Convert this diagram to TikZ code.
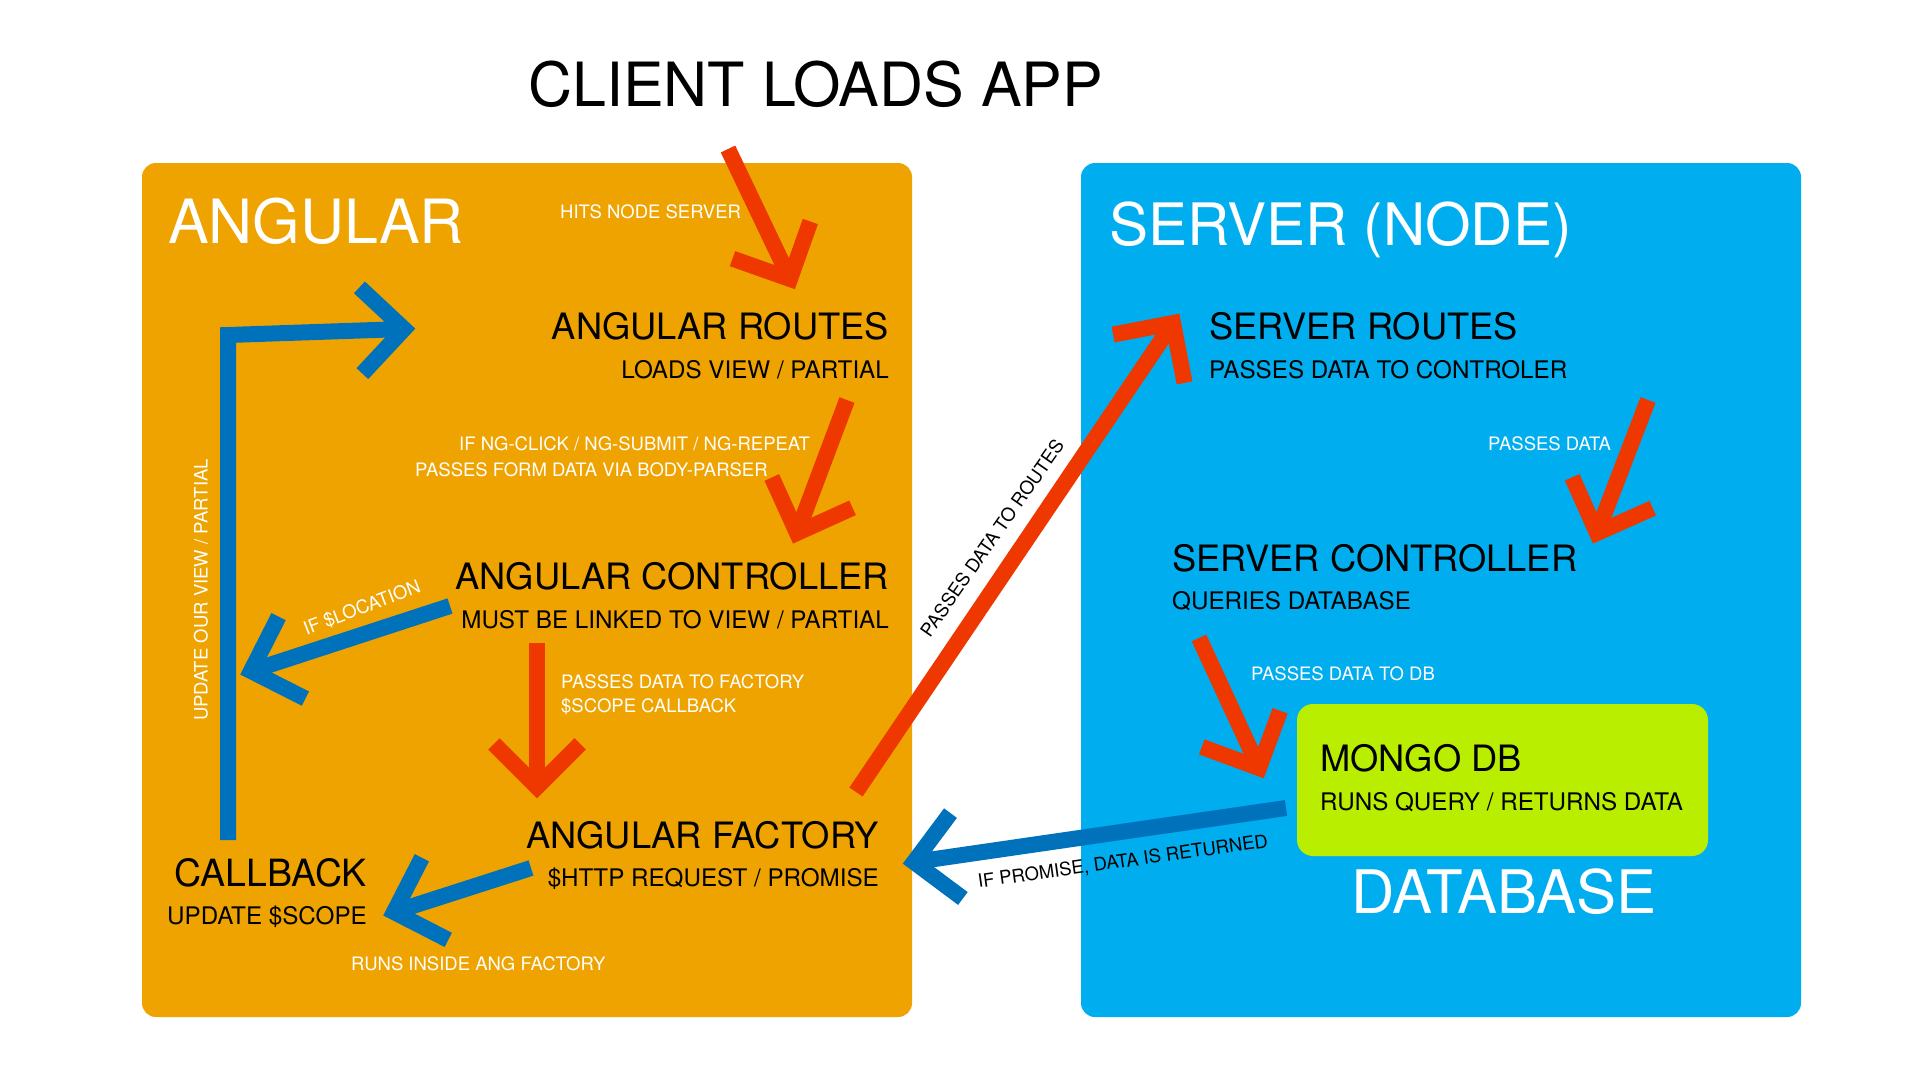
\documentclass[tikz,border=0pt]{standalone}
\usepackage{fontspec}
\setmainfont{TeX Gyre Heros}
\usetikzlibrary{calc}
\definecolor{angorange}{HTML}{EFA300}
\definecolor{nodeblue}{HTML}{00AEEF}
\definecolor{mongogreen}{HTML}{BAEE00}
\definecolor{flowred}{HTML}{EE3800}
\definecolor{flowblue}{HTML}{0072BC}

\begin{document}
\begin{tikzpicture}[x=1pt,y=-1pt,
				every node/.style={inner sep=0pt},
				bigtext/.style={font=\fontsize{#1}{#1}\selectfont},
				headtext/.style={font=\fontsize{36.3}{43}\selectfont},
				subtext/.style={font=\fontsize{24.2}{29}\selectfont},
				notetext/.style={font=\fontsize{18.5}{22}\selectfont,text=white},
				panel/.style={rounded corners=14pt},
				redflow/.style={draw=flowred,line width=16pt,line join=miter},
				blueflow/.style={draw=flowblue,line width=16pt,line join=miter}]
				\fill[white] (0,0) rectangle (1920,1080);
				\useasboundingbox (0,0) rectangle (1920,1080);
				\fill[panel,angorange] (142,163) rectangle (912,1017);
				\fill[panel,nodeblue] (1081,163) rectangle (1801,1017);
				\fill[rounded corners=16pt,mongogreen] (1297,704) rectangle (1708,856);
				\node[bigtext=61,anchor=base west] (client) at (528,106) {CLIENT LOADS APP};
				\node[bigtext=61,anchor=base west,text=white] (angular) at (168,243) {ANGULAR};
				\node[bigtext=58.5,anchor=base west,text=white] (server) at (1109,245) {SERVER (NODE)};
				\node[bigtext=60,anchor=base west,text=white] (database) at (1351,913) {DATABASE};
				\node[notetext,anchor=base west] (hits) at (560,218) {HITS NODE SERVER};
				\node[headtext,anchor=base east] (angroutes) at (889,339) {ANGULAR ROUTES};
				\node[subtext,anchor=base east] (loadsview) at (889,378) {LOADS VIEW / PARTIAL};
				\node[notetext,anchor=base west] (ngclick) at (459,450) {IF NG-CLICK / NG-SUBMIT / NG-REPEAT};
				\node[notetext,anchor=base west] (bodyparser) at (415,476) {PASSES FORM DATA VIA BODY-PARSER};
				\node[headtext,anchor=base east] (angctrl) at (889,589) {ANGULAR CONTROLLER};
				\node[subtext,anchor=base east] (linked) at (889,628) {MUST BE LINKED TO VIEW / PARTIAL};
				\node[notetext,anchor=base west] (tofactory) at (561,688) {PASSES DATA TO FACTORY};
				\node[notetext,anchor=base west] (scopecb) at (561,712) {\$SCOPE CALLBACK};
				\node[headtext,anchor=base east] (angfactory) at (879,848) {ANGULAR FACTORY};
				\node[subtext,anchor=base east] (httpreq) at (879,886) {\$HTTP REQUEST / PROMISE};
				\node[headtext,font=\fontsize{37.5}{43}\selectfont,anchor=base east] (callback) at (367,886) {CALLBACK};
				\node[subtext,anchor=base east] (updscope) at (367,924) {UPDATE \$SCOPE};
				\node[notetext,anchor=base west] (runsinside) at (351,970) {RUNS INSIDE ANG FACTORY};
				\node[notetext,rotate=90] (updview) at (201,590) {UPDATE OUR VIEW / PARTIAL};
				\node[notetext,rotate=21] (iflocation) at (362,608) {IF \$LOCATION};
				\node[notetext,text=black,rotate=55] (toroutes) at (992,538) {PASSES DATA TO ROUTES};
				\node[headtext,anchor=base west] (srvroutes) at (1209,339) {SERVER ROUTES};
				\node[subtext,anchor=base west] (tocontroler) at (1209,378) {PASSES DATA TO CONTROLER};
				\node[notetext,anchor=base west] (passesdata) at (1488,450) {PASSES DATA};
				\node[headtext,anchor=base west] (srvctrl) at (1172,571) {SERVER CONTROLLER};
				\node[subtext,anchor=base west] (queries) at (1172,609) {QUERIES DATABASE};
				\node[notetext,anchor=base west] (todb) at (1251,680) {PASSES DATA TO DB};
				\node[headtext,anchor=base west] (mongo) at (1320,771) {MONGO DB};
				\node[subtext,anchor=base west] (runsquery) at (1320,810) {RUNS QUERY / RETURNS DATA};
				\node[notetext,text=black,rotate=8] (ifpromise) at (1123,862) {IF PROMISE, DATA IS RETURNED};
				\coordinate (c1s) at (728,149);
				\coordinate (c1t) at (790,279);
				\coordinate (c2s) at (847,400);
				\coordinate (c2t) at (797,533);
				\coordinate (c3s) at (537,643);
				\coordinate (c3t) at (537,787);
				\coordinate (c4s) at (856,792);
				\coordinate (c4t) at (1173,323);
				\coordinate (c5s) at (1648,400);
				\coordinate (c5t) at (1597,533);
				\coordinate (c6s) at (1199,638);
				\coordinate (c6t) at (1259,768);
				\coordinate (b1s) at (228,840);
				\coordinate (b1c) at (228,335);
				\coordinate (b1t) at (404,329);
				\coordinate (b2s) at (450,606);
				\coordinate (b2t) at (251,671);
				\coordinate (b3s) at (531,868);
				\coordinate (b3t) at (394,912);
				\coordinate (b4s) at (1286,808);
				\coordinate (b4t) at (914,862);
				\draw[redflow] (c1s) -- (c1t);
				\draw[redflow] ($(c1t)!61pt!45:(c1s)$) -- (c1t) -- ($(c1t)!61pt!-45:(c1s)$);
				\draw[redflow] (c2s) -- (c2t);
				\draw[redflow] ($(c2t)!61pt!45:(c2s)$) -- (c2t) -- ($(c2t)!61pt!-45:(c2s)$);
				\draw[redflow] (c3s) -- (c3t);
				\draw[redflow] ($(c3t)!61pt!45:(c3s)$) -- (c3t) -- ($(c3t)!61pt!-45:(c3s)$);
				\draw[redflow] (c4s) -- (c4t);
				\draw[redflow] ($(c4t)!61pt!45:(c4s)$) -- (c4t) -- ($(c4t)!61pt!-45:(c4s)$);
				\draw[redflow] (c5s) -- (c5t);
				\draw[redflow] ($(c5t)!61pt!45:(c5s)$) -- (c5t) -- ($(c5t)!61pt!-45:(c5s)$);
				\draw[redflow] (c6s) -- (c6t);
				\draw[redflow] ($(c6t)!61pt!45:(c6s)$) -- (c6t) -- ($(c6t)!61pt!-45:(c6s)$);
				\draw[blueflow] (b1s) -- (b1c) -- (b1t);
				\draw[blueflow] ($(b1t)!61pt!45:(b1c)$) -- (b1t) -- ($(b1t)!61pt!-45:(b1c)$);
				\draw[blueflow] (b2s) -- (b2t);
				\draw[blueflow] ($(b2t)!61pt!45:(b2s)$) -- (b2t) -- ($(b2t)!61pt!-45:(b2s)$);
				\draw[blueflow] (b3s) -- (b3t);
				\draw[blueflow] ($(b3t)!61pt!45:(b3s)$) -- (b3t) -- ($(b3t)!61pt!-45:(b3s)$);
				\draw[blueflow] (b4s) -- (b4t);
				\draw[blueflow] ($(b4t)!61pt!45:(b4s)$) -- (b4t) -- ($(b4t)!61pt!-45:(b4s)$);
			\end{tikzpicture}
\end{document}
